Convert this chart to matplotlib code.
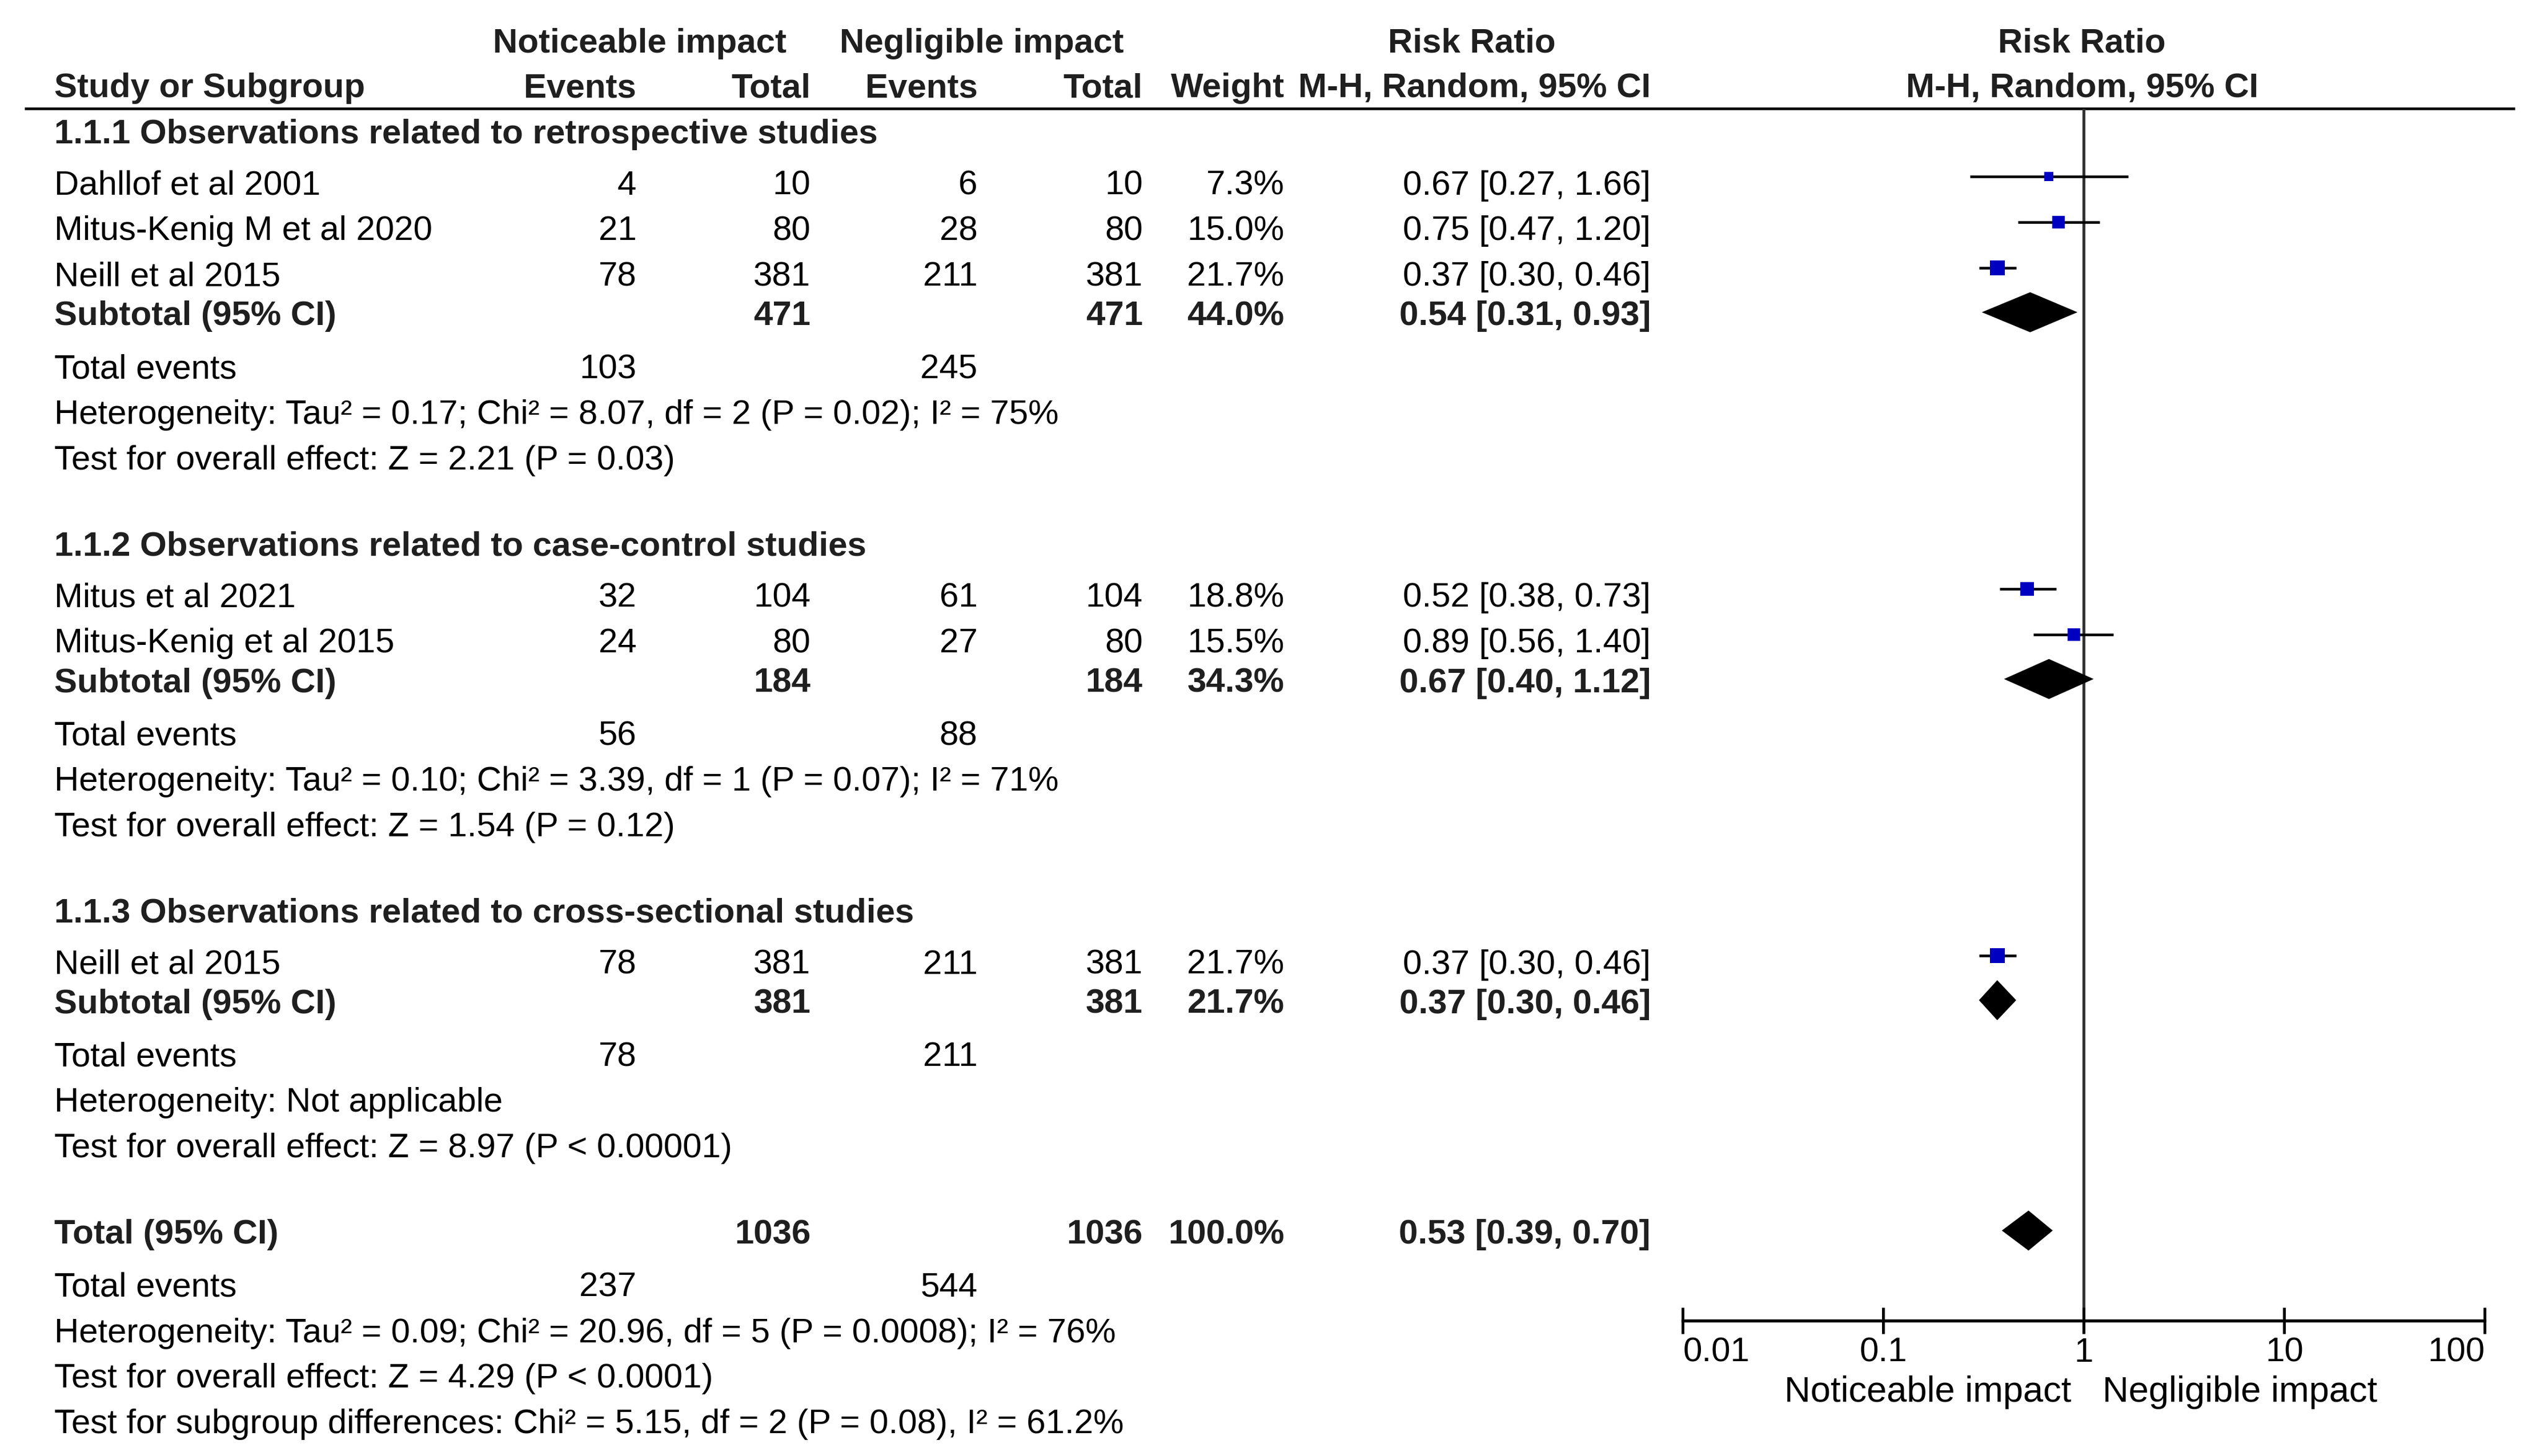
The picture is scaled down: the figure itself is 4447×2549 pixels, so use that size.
import numpy as np
import matplotlib.pyplot as plt

plt.rcParams["font.family"] = ["Liberation Sans", "DejaVu Sans"]

# STUDY DATA
groups = [
    "1.1.1 Observations related to retrospective studies",
    "1.1.2 Observations related to case-control studies",
    "1.1.3 Observations related to cross-sectional studies",
]
study_group = [0, 0, 0, 1, 1, 2]
study_names = ["Dahllof et al 2001", "Mitus-Kenig M et al 2020", "Neill et al 2015",
               "Mitus et al 2021", "Mitus-Kenig et al 2015", "Neill et al 2015"]
noticeable_events = [4, 21, 78, 32, 24, 78]
noticeable_total = [10, 80, 381, 104, 80, 381]
negligible_events = [6, 28, 211, 61, 27, 211]
negligible_total = [10, 80, 381, 104, 80, 381]
weights = [7.3, 15.0, 21.7, 18.8, 15.5, 21.7]
rr = [0.67, 0.75, 0.37, 0.52, 0.89, 0.37]
rr_low = [0.27, 0.47, 0.30, 0.38, 0.56, 0.30]
rr_high = [1.66, 1.20, 0.46, 0.73, 1.40, 0.46]

# SUBTOTALS (three subgroups, then the overall total)
sub_noticeable_total = [471, 184, 381, 1036]
sub_negligible_total = [471, 184, 381, 1036]
sub_weights = [44.0, 34.3, 21.7, 100.0]
sub_rr = [0.54, 0.67, 0.37, 0.53]
sub_low = [0.31, 0.40, 0.30, 0.39]
sub_high = [0.93, 1.12, 0.46, 0.70]
sub_noticeable_events = [103, 56, 78, 237]
sub_negligible_events = [245, 88, 211, 544]
heterogeneity = [
    "Heterogeneity: Tau² = 0.17; Chi² = 8.07, df = 2 (P = 0.02); I² = 75%",
    "Heterogeneity: Tau² = 0.10; Chi² = 3.39, df = 1 (P = 0.07); I² = 71%",
    "Heterogeneity: Not applicable",
    "Heterogeneity: Tau² = 0.09; Chi² = 20.96, df = 5 (P = 0.0008); I² = 76%",
]
overall_effect = [
    "Test for overall effect: Z = 2.21 (P = 0.03)",
    "Test for overall effect: Z = 1.54 (P = 0.12)",
    "Test for overall effect: Z = 8.97 (P < 0.00001)",
    "Test for overall effect: Z = 4.29 (P < 0.0001)",
]
subgroup_test = "Test for subgroup differences: Chi² = 5.15, df = 2 (P = 0.08), I² = 61.2%"

x_ticks = [0.01, 0.1, 1, 10, 100]
x_ticklabels = ["0.01", "0.1", "1", "10", "100"]

# LAYOUT (units: pixels of the image at 1/2.85 scale)
S = 2.85
W, H = 4447 / S, 2549 / S
FS = 14.4
BOLDC = "#1f1f1f"
X_LABEL, X_EV1, X_TOT1, X_EV2, X_TOT2, X_WT, X_CI = 33.5, 391, 498, 600.5, 702, 789, 1014
X_LO, X_HI = 1033.8, 1526.4   # positions of 0.01 and 100 on the forest axis
Y_AXIS = 811.2
Y_RULE = 66.5

fig = plt.figure(figsize=(4447 / 300, 2549 / 300), dpi=300)
ax = fig.add_axes([0, 0, 1, 1])
ax.set_xlim(0, W)
ax.set_ylim(H, 0)
ax.axis("off")

fa = fig.add_axes([X_LO / W, 0, (X_HI - X_LO) / W, 1])
fa.set_facecolor("none")
fa.set_xscale("log")
fa.set_xlim(0.01, 100)
fa.set_ylim(H, 0)


def txt(x, y, s, ha="right", bold=False, size=FS):
    ax.text(x, y, s, ha=ha, va="baseline", fontsize=size,
            fontweight="bold" if bold else "normal",
            color=BOLDC if bold else "black")


def fmt_ci(r, lo, hi):
    return f"{r:.2f} [{lo:.2f}, {hi:.2f}]"


# HEADER
txt(393, 32.2, "Noticeable impact", ha="center", bold=True)
txt(603, 32.2, "Negligible impact", ha="center", bold=True)
txt(904, 32.2, "Risk Ratio", ha="center", bold=True)
txt(1279, 32.2, "Risk Ratio", ha="center", bold=True)
txt(X_LABEL, 59.8, "Study or Subgroup", ha="left", bold=True)
for x, s in [(X_EV1, "Events"), (X_TOT1, "Total"), (X_EV2, "Events"),
             (X_TOT2, "Total"), (X_WT, "Weight"), (X_CI, "M-H, Random, 95% CI")]:
    txt(x, 59.8, s, bold=True)
txt(1279, 59.8, "M-H, Random, 95% CI", ha="center", bold=True)
ax.hlines(Y_RULE, 15, 1545, color="black", lw=1.1)


def subtotal_block(g, y, label):
    txt(X_LABEL, y, label, ha="left", bold=True)
    txt(X_TOT1, y, str(sub_noticeable_total[g]), bold=True)
    txt(X_TOT2, y, str(sub_negligible_total[g]), bold=True)
    txt(X_WT, y, f"{sub_weights[g]:.1f}%", bold=True)
    txt(X_CI, y, fmt_ci(sub_rr[g], sub_low[g], sub_high[g]), bold=True)
    yd = y - 8
    fa.fill([sub_low[g], sub_rr[g], sub_high[g], sub_rr[g]],
            [yd, yd - 12.3, yd, yd + 12.3], color="black", lw=0, zorder=3)
    y += 32.5
    txt(X_LABEL, y, "Total events", ha="left")
    txt(X_EV1, y, str(sub_noticeable_events[g]))
    txt(X_EV2, y, str(sub_negligible_events[g]))
    y += 28
    txt(X_LABEL, y, heterogeneity[g], ha="left")
    y += 28
    txt(X_LABEL, y, overall_effect[g], ha="left")
    return y


# BODY
y = 88.0
for g, gname in enumerate(groups):
    txt(X_LABEL, y, gname, ha="left", bold=True)
    y += 31.5
    for i in [k for k, sg in enumerate(study_group) if sg == g]:
        txt(X_LABEL, y, study_names[i], ha="left")
        txt(X_EV1, y, str(noticeable_events[i]))
        txt(X_TOT1, y, str(noticeable_total[i]))
        txt(X_EV2, y, str(negligible_events[i]))
        txt(X_TOT2, y, str(negligible_total[i]))
        txt(X_WT, y, f"{weights[i]:.1f}%")
        txt(X_CI, y, fmt_ci(rr[i], rr_low[i], rr_high[i]))
        yf = y - 11
        fa.hlines(yf, rr_low[i], rr_high[i], color="black", lw=1.1, zorder=2)
        side = 5.75 * np.sqrt(weights[i]) * 72 / 300
        fa.scatter([rr[i]], [yf], marker="s", s=side ** 2, color="#0000C0",
                   linewidths=0, zorder=3)
        y += 28.0
    y -= 3.7
    y = subtotal_block(g, y, "Subtotal (95% CI)")
    y += 53

y = subtotal_block(3, y, "Total (95% CI)")
y += 28
txt(X_LABEL, y, subgroup_test, ha="left")

# FOREST AXIS
fa.vlines(1, Y_RULE, Y_AXIS, color="#333333", lw=1.2, zorder=1)
for sp in ["left", "right", "top"]:
    fa.spines[sp].set_visible(False)
fa.spines["bottom"].set_position(("data", Y_AXIS))
fa.spines["bottom"].set_linewidth(1.3)
fa.set_yticks([])
fa.set_xticks(x_ticks)
fa.set_xticklabels(x_ticklabels)
fa.minorticks_off()
fa.tick_params(axis="x", direction="inout", length=10.9, width=1.2, pad=1.5,
               labelsize=FS)
labels = fa.get_xticklabels()
labels[0].set_ha("left")
labels[-1].set_ha("right")
txt(1272.5, 861, "Noticeable impact", size=15.2)
txt(1291.5, 861, "Negligible impact", ha="left", size=15.2)

fig.savefig("out.png", dpi=300)
